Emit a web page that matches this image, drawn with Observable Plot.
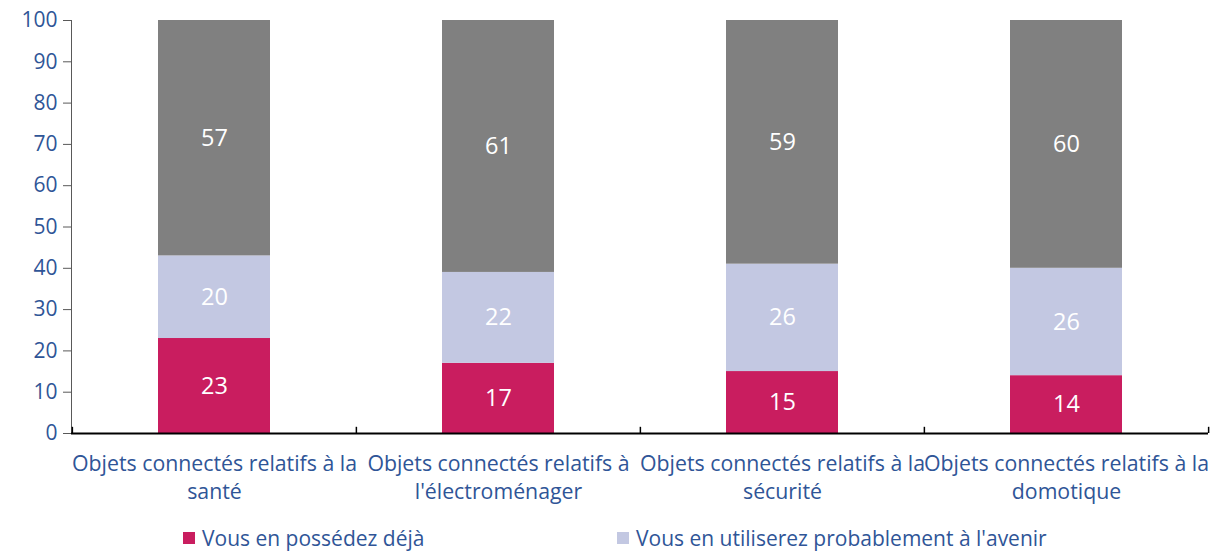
<!DOCTYPE html>
<html>
<head>
<meta charset="utf-8">
<script src="https://cdn.jsdelivr.net/npm/d3@7"></script>
<script src="https://cdn.jsdelivr.net/npm/@observablehq/plot@0.6"></script>
<style>
  body { margin: 0; background: #fff; font-family: "Open Sans", sans-serif; }
  #wrap { position: relative; width: 1210px; height: 552px; }
  .legend { position: absolute; top: 524px; left: 0; width: 1210px; height: 28px; font-size: 21px; color: #2f5597; }
  .item { position: absolute; top: 0; display: flex; align-items: center; white-space: nowrap; line-height: 28px; }
  .sw { width: 12px; height: 12px; margin-right: 7px; }
</style>
</head>
<body>
<div id="wrap"></div>
<script>
const categories = [
  "Objets connectés relatifs à la\nsanté",
  "Objets connectés relatifs à\nl'électroménager",
  "Objets connectés relatifs à la\nsécurité",
  "Objets connectés relatifs à la\ndomotique"
];
const seriesNames = [
  "Vous en possédez déjà",
  "Vous en utiliserez probablement à l'avenir",
  "Vous n'en utiliserez pas"
];
const possede = [23, 17, 15, 14];
const avenir = [20, 22, 26, 26];
const jamais = [57, 61, 59, 60];
const colors = ["#c91d5f", "#c3c8e2", "#808080"];
const yTicks = [0, 10, 20, 30, 40, 50, 60, 70, 80, 90, 100];

const values = [possede, avenir, jamais];
const data = [];
values.forEach((arr, s) => arr.forEach((v, i) => data.push({cat: categories[i], series: seriesNames[s], value: v})));

const W = 1210, H = 520, ML = 71, MR = 2;
const bw = (W - ML - MR) / categories.length;
const stack = {x: "cat", y: "value", z: "series", order: seriesNames};

const chart = Plot.plot({
  width: W,
  height: H,
  marginLeft: ML,
  marginRight: MR,
  marginTop: 20,
  marginBottom: 87,
  style: {fontFamily: "Open Sans, sans-serif", background: "#fff"},
  x: {domain: categories, paddingInner: 0.606, paddingOuter: 0.303, align: 0.5},
  y: {domain: [0, 100]},
  color: {domain: seriesNames, range: colors},
  marks: [
    Plot.barY(data, Plot.stackY({...stack, fill: "series"})),
    Plot.text(data, Plot.stackY({...stack, text: "value", fill: "white", fontSize: 23.5})),
    Plot.axisY({ticks: yTicks, tickSize: 8, stroke: "#595959", tickPadding: 6, fill: "#2f5597", fontSize: 21, label: null}),
    Plot.frame({anchor: "left", stroke: "#595959"}),
    Plot.axisX({tickSize: 0, tickPadding: 18, fill: "#2f5597", fontSize: 21.3, lineHeight: 1.31, label: null}),
    Plot.ruleY([0], {stroke: "#000", strokeWidth: 2}),
    Plot.ruleX(categories, {x: d => d, y1: 0, y2: 1.5, dx: -bw / 2, stroke: "#000", strokeWidth: 1.5}),
    Plot.ruleX([categories[categories.length - 1]], {x: d => d, y1: 0, y2: 1.5, dx: bw / 2, stroke: "#000", strokeWidth: 1.5})
  ]
});
const wrap = document.getElementById("wrap");
wrap.appendChild(chart);

const legend = document.createElement("div");
legend.className = "legend";
const lefts = [183, 617];
seriesNames.slice(0, 2).forEach((name, i) => {
  const it = document.createElement("div");
  it.className = "item";
  it.style.left = lefts[i] + "px";
  it.innerHTML = `<span class="sw" style="background:${colors[i]}"></span><span>${name}</span>`;
  legend.appendChild(it);
});
wrap.appendChild(legend);
</script>
</body>
</html>
